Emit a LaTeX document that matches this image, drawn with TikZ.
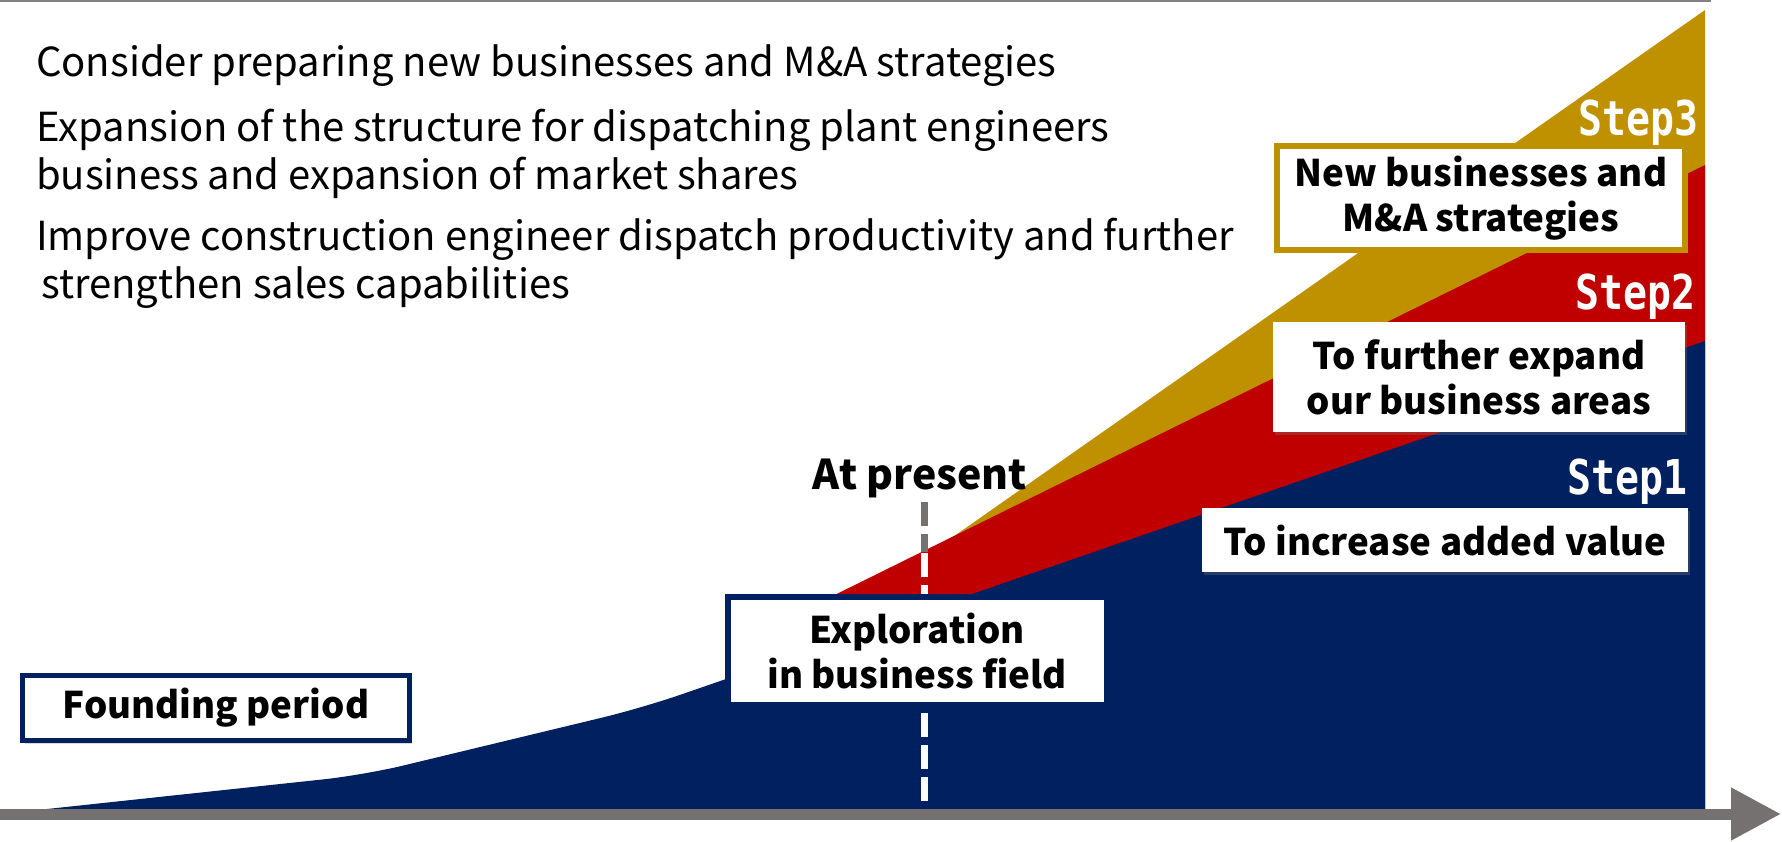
\documentclass[tikz,border=0pt]{standalone}
\usepackage{fontspec}
\setmainfont{Noto Sans CJK JP}
\newfontfamily\stepfont[FakeStretch=0.83]{DejaVu Sans Mono}
\usetikzlibrary{positioning,arrows.meta,shadows,calc}
\definecolor{navy}{HTML}{002060}
\definecolor{crimson}{HTML}{C00000}
\definecolor{ochre}{HTML}{BF9000}
\definecolor{axisgray}{HTML}{767171}

\begin{document}
\begin{tikzpicture}[x=1pt, y=-1pt,
  plan/.style={anchor=base west, align=left, inner sep=0pt, font=\fontsize{40}{48}\selectfont},
  phase/.style={fill=white, inner sep=0pt, align=center, font=\bfseries\fontsize{36.7}{45}\selectfont,
               drop shadow={shadow xshift=2pt, shadow yshift=-3pt, opacity=0.3}},
  framed/.style={phase, draw=navy, line width=5pt},
  steplbl/.style={anchor=base east, inner sep=0pt, text=white, font=\stepfont\bfseries\fontsize{48}{48}\selectfont},
  marker/.style={line width=7pt, dash pattern=on 24pt off 8pt}]
\useasboundingbox (0,0) rectangle (1782,841);
\draw[gray, line width=2.5pt] (0,1) -- (1711,1);

\node[plan] (plan1) at (36,76) {Consider preparing new businesses and M\&A strategies};
\node[plan] (plan2) at (36,189) {Expansion of the structure for dispatching plant engineers\\business and expansion of market shares};
\node[plan] (plan3) at (36,298) {Improve construction engineer dispatch productivity and further\\\hspace{5pt}strengthen sales capabilities};

\fill[ochre] (930,553) -- (1705,10) -- (1705,812) -- (930,812) -- cycle;
\fill[crimson] (790,617) -- (1705,165) -- (1705,812) -- (790,812) -- cycle;
\fill[navy] (47,812) -- (47,809) [rounded corners=40pt] -- (364,775) -- (642,708) [sharp corners] -- (1705,341) -- (1705,812) -- cycle;

\coordinate (now) at (924,502);
\coordinate (nowedge) at (924,552);
\coordinate (nowcut) at (924,553);
\coordinate (nowbase) at (924,808);
\draw[marker, axisgray] (now) -- (nowedge);
\draw[marker, white] (nowcut) -- (nowbase);

\coordinate (origin) at (0,814);
\coordinate (future) at (1781,814);
\draw[axisgray, line width=11pt, -{Triangle[length=50pt, width=50pt]}] (origin) -- (future);

\node[framed, minimum width=387pt, minimum height=65pt] (found) at (216,708) {Founding period};
\node[framed, line width=6pt, minimum width=379pt, minimum height=108pt] (explore) at (917,651) {Exploration\\in business field};
\node[framed, draw=ochre, line width=6pt, minimum width=408pt, minimum height=104pt] (newbiz) at (1481,198) {New businesses and\\M\&A strategies};
\node[phase, minimum width=412pt, minimum height=110pt] (expand) at (1479,377) {To further expand\\our business areas};
\node[phase, minimum width=486pt, minimum height=64pt] (addval) at (1445,540) {To increase added value};

\node[anchor=base, inner sep=0pt, font=\bfseries\fontsize{41}{41}\selectfont] (present) at (920,489) {At present};

\node[steplbl] (step3) at (1699,135) {Step3};
\node[steplbl] (step2) at (1696,309) {Step2};
\node[steplbl] (step1) at (1688,494) {Step1};
\end{tikzpicture}
\end{document}
